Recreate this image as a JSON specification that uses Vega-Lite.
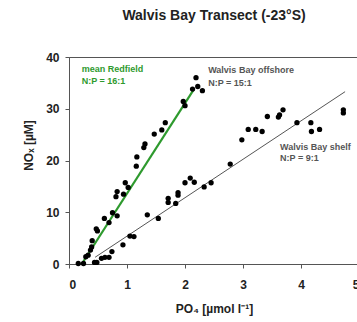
{
  "$schema": "https://vega.github.io/schema/vega-lite/v6.json",
  "width": 290,
  "height": 207,
  "autosize": {"type": "none"},
  "padding": {"left": 69, "top": 57, "right": 0, "bottom": 58},
  "background": "white",
  "config": {
    "font": "Liberation Sans",
    "view": {"stroke": "#555", "strokeWidth": 1},
    "axis": {"grid": false, "domainColor": "#555", "tickColor": "#555", "labelFont": "Liberation Sans", "labelFontWeight": "bold", "labelFontSize": 12, "labelColor": "#222", "titleFont": "Liberation Sans", "titleFontWeight": "bold", "titleFontSize": 12, "titleColor": "#222", "tickSize": 4}
  },
  "title": {"text": "Walvis Bay Transect (-23°S)", "font": "Liberation Sans", "fontSize": 14, "fontWeight": "bold", "color": "#222", "anchor": "middle", "offset": 28},
  "datasets": {
    "points": [
      {"group": "offshore", "po4": 0.16, "nox": 0.1},
      {"group": "offshore", "po4": 0.25, "nox": 0.1},
      {"group": "offshore", "po4": 0.29, "nox": 1.4},
      {"group": "offshore", "po4": 0.33, "nox": 1.7},
      {"group": "offshore", "po4": 0.37, "nox": 2.7},
      {"group": "offshore", "po4": 0.39, "nox": 3.3},
      {"group": "offshore", "po4": 0.40, "nox": 4.5},
      {"group": "offshore", "po4": 0.47, "nox": 6.8},
      {"group": "offshore", "po4": 0.49, "nox": 6.4},
      {"group": "offshore", "po4": 0.61, "nox": 8.8},
      {"group": "offshore", "po4": 0.69, "nox": 8.0},
      {"group": "offshore", "po4": 0.75, "nox": 9.9},
      {"group": "offshore", "po4": 0.83, "nox": 9.3},
      {"group": "offshore", "po4": 0.81, "nox": 13.0},
      {"group": "offshore", "po4": 0.83, "nox": 14.0},
      {"group": "offshore", "po4": 0.94, "nox": 13.5},
      {"group": "offshore", "po4": 0.97, "nox": 15.7},
      {"group": "offshore", "po4": 1.02, "nox": 14.8},
      {"group": "offshore", "po4": 1.16, "nox": 18.9},
      {"group": "offshore", "po4": 1.17, "nox": 20.7},
      {"group": "offshore", "po4": 1.29, "nox": 22.5},
      {"group": "offshore", "po4": 1.31, "nox": 23.2},
      {"group": "offshore", "po4": 1.47, "nox": 25.1},
      {"group": "offshore", "po4": 1.60, "nox": 25.9},
      {"group": "offshore", "po4": 1.66, "nox": 27.3},
      {"group": "offshore", "po4": 1.97, "nox": 31.4},
      {"group": "offshore", "po4": 2.0, "nox": 30.6},
      {"group": "offshore", "po4": 2.13, "nox": 33.8},
      {"group": "offshore", "po4": 2.22, "nox": 34.3},
      {"group": "offshore", "po4": 2.30, "nox": 33.5},
      {"group": "offshore", "po4": 2.19, "nox": 36.0},
      {"group": "shelf", "po4": 0.44, "nox": 0.3},
      {"group": "shelf", "po4": 0.48, "nox": 0.3},
      {"group": "shelf", "po4": 0.56, "nox": 1.1},
      {"group": "shelf", "po4": 0.62, "nox": 1.3},
      {"group": "shelf", "po4": 0.69, "nox": 1.3},
      {"group": "shelf", "po4": 0.74, "nox": 2.4},
      {"group": "shelf", "po4": 0.93, "nox": 3.7},
      {"group": "shelf", "po4": 1.05, "nox": 5.4},
      {"group": "shelf", "po4": 1.12, "nox": 5.3},
      {"group": "shelf", "po4": 1.35, "nox": 9.5},
      {"group": "shelf", "po4": 1.54, "nox": 8.8},
      {"group": "shelf", "po4": 1.71, "nox": 12.7},
      {"group": "shelf", "po4": 1.71, "nox": 11.9},
      {"group": "shelf", "po4": 1.84, "nox": 11.7},
      {"group": "shelf", "po4": 1.88, "nox": 13.8},
      {"group": "shelf", "po4": 1.88, "nox": 13.3},
      {"group": "shelf", "po4": 2.0, "nox": 15.7},
      {"group": "shelf", "po4": 2.09, "nox": 16.6},
      {"group": "shelf", "po4": 2.16, "nox": 15.8},
      {"group": "shelf", "po4": 2.33, "nox": 14.9},
      {"group": "shelf", "po4": 2.45, "nox": 15.7},
      {"group": "shelf", "po4": 2.78, "nox": 19.3},
      {"group": "shelf", "po4": 2.98, "nox": 24.0},
      {"group": "shelf", "po4": 3.09, "nox": 26.0},
      {"group": "shelf", "po4": 3.22, "nox": 26.0},
      {"group": "shelf", "po4": 3.33, "nox": 25.6},
      {"group": "shelf", "po4": 3.42, "nox": 28.5},
      {"group": "shelf", "po4": 3.61, "nox": 28.4},
      {"group": "shelf", "po4": 3.63, "nox": 28.8},
      {"group": "shelf", "po4": 3.69, "nox": 29.8},
      {"group": "shelf", "po4": 3.93, "nox": 27.3},
      {"group": "shelf", "po4": 4.17, "nox": 27.3},
      {"group": "shelf", "po4": 4.18, "nox": 25.6},
      {"group": "shelf", "po4": 4.32, "nox": 26.0},
      {"group": "shelf", "po4": 4.73, "nox": 29.8},
      {"group": "shelf", "po4": 4.73, "nox": 29.2}
    ],
    "lines": [
      {"line": "redfield", "po4": 0.22, "nox": 0},
      {"line": "redfield", "po4": 2.15, "nox": 33.7},
      {"line": "shelf", "po4": 0.45, "nox": 1.3},
      {"line": "shelf", "po4": 4.76, "nox": 33.3}
    ],
    "labels": [
      {"kind": "green", "po4": 0.22, "nox": 37.7, "text": "mean Redfield"},
      {"kind": "green", "po4": 0.22, "nox": 35.4, "text": "N:P = 16:1"},
      {"kind": "dark", "po4": 2.4, "nox": 37.4, "text": "Walvis Bay offshore"},
      {"kind": "dark", "po4": 2.4, "nox": 35.0, "text": "N:P = 15:1"},
      {"kind": "dark", "po4": 3.64, "nox": 22.7, "text": "Walvis Bay shelf"},
      {"kind": "dark", "po4": 3.64, "nox": 20.5, "text": "N:P = 9:1"}
    ]
  },
  "layer": [
    {
      "data": {"name": "lines"},
      "mark": {"type": "line"},
      "encoding": {
        "x": {"field": "po4", "type": "quantitative", "scale": {"domain": [0, 5], "nice": false}, "axis": {"title": "PO₄ [µmol l⁻¹]", "values": [0, 1, 2, 3, 4, 5], "format": "d", "labelPadding": 11, "titlePadding": 13}},
        "y": {"field": "nox", "type": "quantitative", "scale": {"domain": [0, 40], "nice": false}, "axis": {"title": "NOₓ [µM]", "values": [0, 10, 20, 30, 40], "format": "d", "labelPadding": 6, "titlePadding": 10, "titleY": 88}},
        "detail": {"field": "line"},
        "color": {"field": "line", "type": "nominal", "scale": {"domain": ["redfield", "shelf"], "range": ["#2e9a2e", "#555555"]}, "legend": null},
        "strokeWidth": {"field": "line", "type": "nominal", "scale": {"domain": ["redfield", "shelf"], "range": [2.2, 1]}, "legend": null}
      }
    },
    {
      "data": {"name": "points"},
      "mark": {"type": "circle", "size": 28, "opacity": 1, "color": "black"},
      "encoding": {
        "x": {"field": "po4", "type": "quantitative"},
        "y": {"field": "nox", "type": "quantitative"}
      }
    },
    {
      "data": {"name": "labels"},
      "mark": {"type": "text", "align": "left", "baseline": "middle", "fontSize": 9, "fontWeight": "bold", "font": "Liberation Sans"},
      "encoding": {
        "x": {"field": "po4", "type": "quantitative"},
        "y": {"field": "nox", "type": "quantitative"},
        "text": {"field": "text"},
        "color": {"field": "kind", "type": "nominal", "scale": {"domain": ["green", "dark"], "range": ["#3aa33a", "#333333"]}, "legend": null}
      }
    }
  ]
}
